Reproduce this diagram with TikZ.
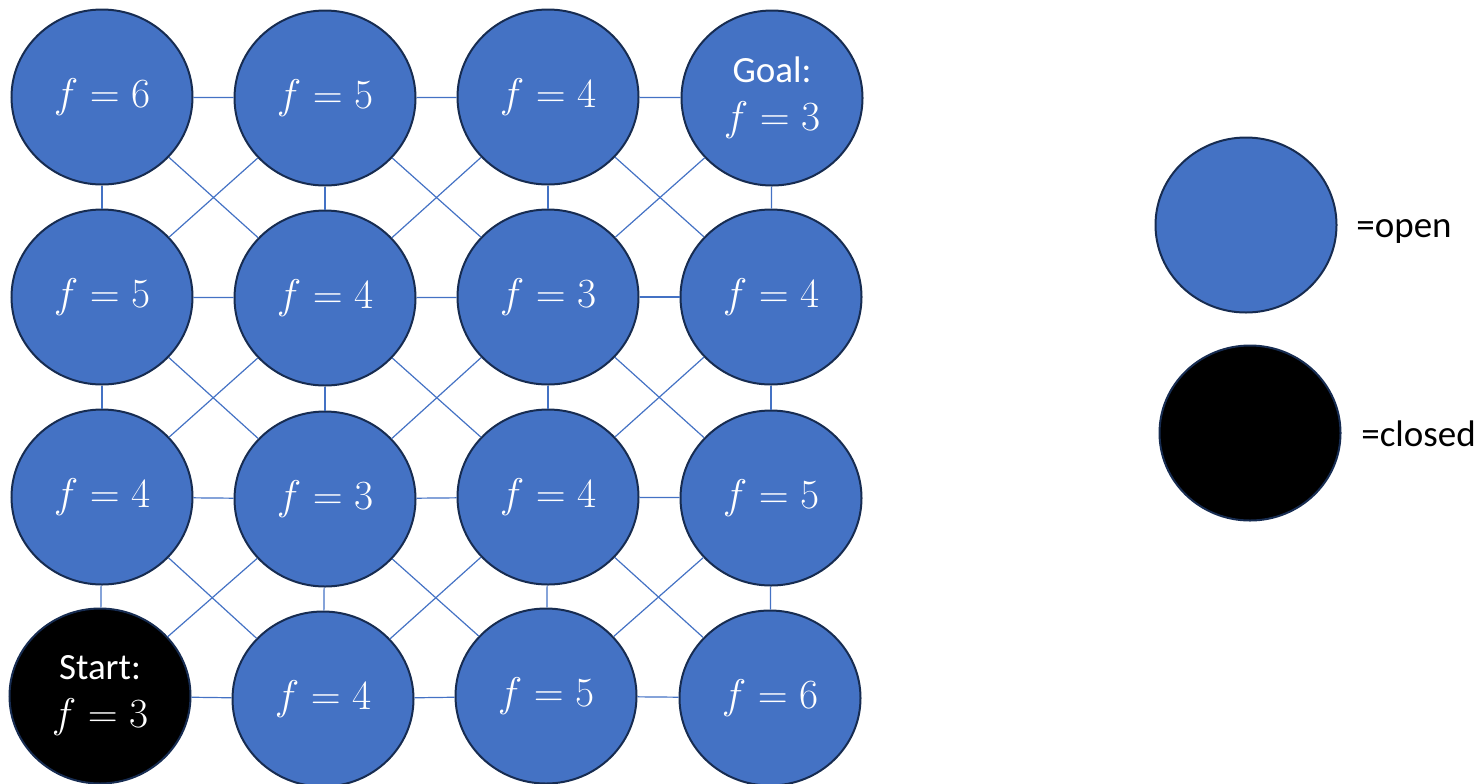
\documentclass[tikz,border=0pt]{standalone}
\usepackage{fontspec}
\setmainfont{Carlito}
\usetikzlibrary{shapes.geometric}
\definecolor{oblue}{HTML}{4472C4}
\definecolor{onavy}{HTML}{172C51}
\begin{document}
\begin{tikzpicture}[x=0.5pt,y=-0.5pt,
  cell/.style={ellipse, draw=onavy, line width=1pt, fill=oblue, minimum width=90.5pt, minimum height=87.5pt, inner sep=0pt, text=white, font=\fontsize{21}{23}\selectfont, align=center},
  closedcell/.style={cell, fill=black},
  link/.style={draw=oblue, line width=0.6pt},
  legendtext/.style={font=\fontsize{18.5}{22}\selectfont, anchor=west, inner sep=0pt, text=black}]
\useasboundingbox (0,0) rectangle (1482,783);
% grid nodes
\node[cell] (n11) at (102,97) {$f=6$};
\node[cell] (n12) at (325,98) {$f=5$};
\node[cell] (n13) at (548,97) {$f=4$};
\node[cell] (n14) at (772,98) {\raisebox{-3pt}{\fontsize{18.5}{22}\selectfont Goal:}\\[1pt]\raisebox{-3pt}{$f=3$}};
\node[cell] (n21) at (102,297) {$f=5$};
\node[cell] (n22) at (325,298) {$f=4$};
\node[cell] (n23) at (548,297) {$f=3$};
\node[cell] (n24) at (771,297) {$f=4$};
\node[cell] (n31) at (102,497) {$f=4$};
\node[cell] (n32) at (325,499) {$f=3$};
\node[cell] (n33) at (548,497) {$f=4$};
\node[cell] (n34) at (771,498) {$f=5$};
\node[closedcell] (n41) at (100,696) {\raisebox{-3pt}{\fontsize{18.5}{22}\selectfont Start:}\\[1pt]\raisebox{-3pt}{$f=3$}};
\node[cell] (n42) at (323,699) {$f=4$};
\node[cell] (n43) at (546,696) {$f=5$};
\node[cell] (n44) at (770,698) {$f=6$};
% horizontal and vertical links
\foreach \a in {1,...,4}{
  \foreach \b [evaluate=\b as \nb using int(\b+1)] in {1,2,3}{
    \draw[link] (n\a\b) -- (n\a\nb);
    \draw[link] (n\b\a) -- (n\nb\a);
  }
}
% diagonal links
\foreach \a [evaluate=\a as \na using int(\a+1)] in {1,2,3}{
  \foreach \b [evaluate=\b as \nb using int(\b+1)] in {1,2,3}{
    \draw[link] (n\a\b) -- (n\na\nb);
    \draw[link] (n\a\nb) -- (n\na\b);
  }
}
% legend
\node[cell] (lopen) at (1246,225) {};
\node[closedcell] (lclosed) at (1250,433) {};
\node[legendtext] (topen) at (1356,231) {=open};
\node[legendtext] (tclosed) at (1361,434) {=closed};
\end{tikzpicture}
\end{document}
